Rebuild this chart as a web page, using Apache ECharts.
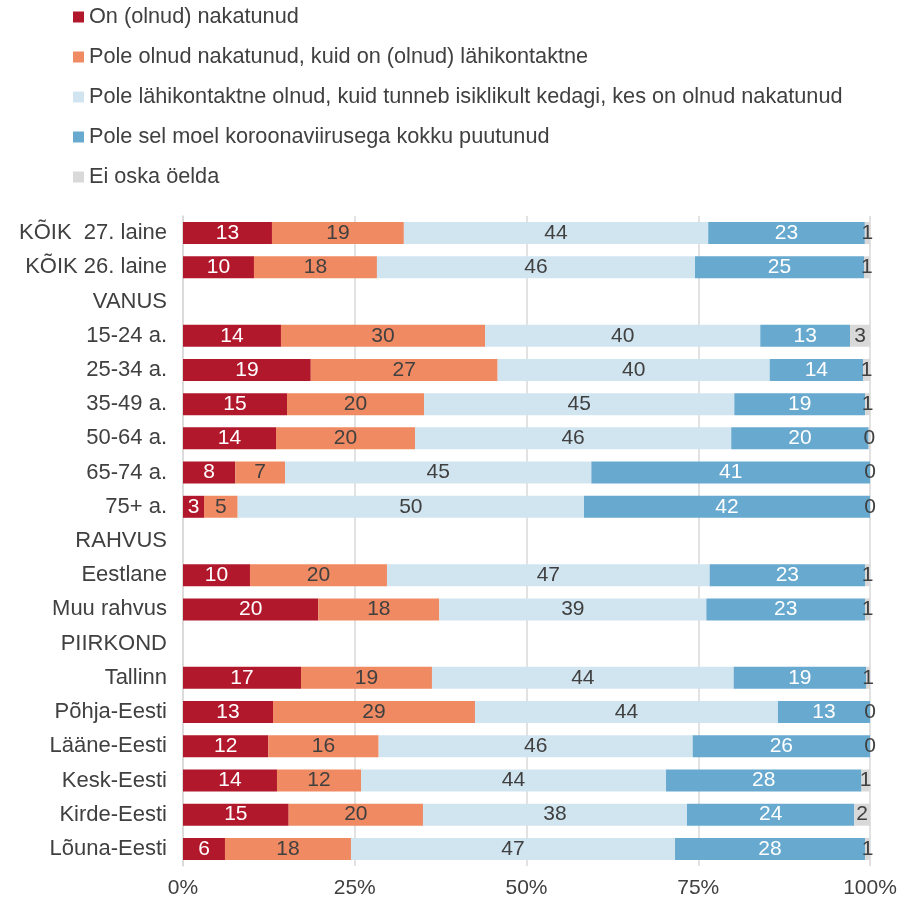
<!DOCTYPE html>
<html><head><meta charset="utf-8">
<script src="https://cdn.jsdelivr.net/npm/echarts@6/dist/echarts.min.js"></script>
<style>html,body{margin:0;padding:0;background:#fff}#c{width:921px;height:903px}</style>
</head><body><div id="c"></div>
<script>
const categories = ["KÕIK  27. laine","KÕIK 26. laine","VANUS","15-24 a.","25-34 a.","35-49 a.","50-64 a.","65-74 a.","75+ a.","RAHVUS","Eestlane","Muu rahvus","PIIRKOND","Tallinn","Põhja-Eesti","Lääne-Eesti","Kesk-Eesti","Kirde-Eesti","Lõuna-Eesti"];
const seriesNames = ["On (olnud) nakatunud","Pole olnud nakatunud, kuid on (olnud) lähikontaktne","Pole lähikontaktne olnud, kuid tunneb isiklikult kedagi, kes on olnud nakatunud","Pole sel moel koroonaviirusega kokku puutunud","Ei oska öelda"];
const infected  = [12.95,10.33,null,14.26,18.6,15.14,13.54,7.62,3.06,null,9.75,19.7,null,17.18,13.1,12.42,13.68,15.38,6.11];
const contact   = [19.2,17.9,null,29.7,27.2,19.94,20.23,7.23,4.9,null,19.94,17.61,null,19.06,29.4,16.06,12.23,19.55,18.34];
const knows     = [44.3,46.3,null,40.07,39.6,45.17,46.03,44.59,50.41,null,46.97,38.87,null,43.92,44.1,45.71,44.4,38.43,47.17];
const notTouched= [22.8,24.6,null,13.06,13.58,19.02,20.0,40.56,41.63,null,22.61,23.09,null,19.26,13.4,25.81,28.45,24.36,27.65];
const dontKnow  = [0.75,0.83,null,2.91,1.02,0.73,0.2,0,0,null,0.73,0.73,null,0.58,0,0,1.16,2.28,0.73];
const xTicks = [0,25,50,75,100];

const colors = ["#B2182B","#EF8A62","#D1E5F0","#67A9CF","#D9D9D9"];
const labelColors = ["#ffffff","#404040","#404040","#ffffff","#404040"];
const allData = [infected, contact, knows, notTouched, dontKnow];
const FONT = "Liberation Sans";
const FS = 21;
const FS_BIG = 22;

const series = allData.map((d, i) => ({
  name: seriesNames[i],
  type: 'bar',
  stack: 'total',
  barWidth: 22,
  data: d.map(v => v === null ? '-' : v),
  itemStyle: { color: colors[i] },
  label: {
    show: true,
    position: 'inside',
    color: labelColors[i],
    fontFamily: FONT,
    fontSize: FS,
    formatter: p => String(Math.round(p.value))
  },
  emphasis: { disabled: true }
}));

const chart = echarts.init(document.getElementById('c'), null, { renderer: 'canvas' });
chart.setOption({
  animation: false,
  textStyle: { fontFamily: FONT },
  legend: {
    orient: 'vertical',
    left: 68,
    top: 1,
    itemWidth: 11,
    itemHeight: 11,
    itemGap: 18,
    icon: 'rect',
    textStyle: { fontFamily: FONT, fontSize: 21.7, color: '#404040' },
    data: seriesNames
  },
  grid: { left: 183, right: 51, top: 216, bottom: 37, containLabel: false },
  xAxis: {
    type: 'value',
    min: 0, max: 100, interval: 25,
    axisLabel: { formatter: v => xTicks.includes(v) ? v + '%' : '', fontFamily: FONT, fontSize: FS, color: '#404040', margin: 12 },
    splitLine: { show: true, lineStyle: { color: '#D9D9D9', width: 1.5 } },
    axisLine: { show: false },
    axisTick: { show: false }
  },
  yAxis: {
    type: 'category',
    inverse: true,
    data: categories,
    axisLine: { show: true, lineStyle: { color: '#D9D9D9', width: 1.5 } },
    axisTick: { show: false },
    axisLabel: { fontFamily: FONT, fontSize: FS_BIG, color: '#404040', margin: 16 }
  },
  series: series
});
</script></body></html>
